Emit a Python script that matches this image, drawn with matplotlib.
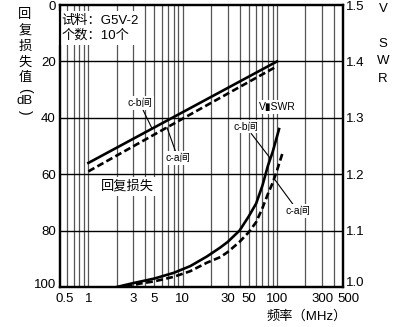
import matplotlib
matplotlib.use('Agg')
import matplotlib.pyplot as plt
from matplotlib.ticker import FixedLocator, NullFormatter
from matplotlib.transforms import ScaledTranslation

plt.rcParams['font.family'] = ['Liberation Sans', 'Noto Sans CJK SC', 'DejaVu Sans']

# return loss (dB) - straight lines on log frequency
rl_freq = [1, 10, 100]
rl_cb = [56, 38, 20]
rl_ca = [59, 40.3, 21.7]

# VSWR curves
vswr_cb_freq = [2, 3, 5, 8, 12, 18, 25, 30, 40, 50, 60, 70, 80, 90, 105]
vswr_cb = [1.0, 1.007, 1.015, 1.025, 1.037, 1.054, 1.07, 1.08, 1.10, 1.125, 1.148, 1.18, 1.215, 1.24, 1.28]
vswr_ca_freq = [2.5, 3.5, 5, 8, 12, 18, 25, 30, 40, 50, 60, 70, 80, 90, 100, 115]
vswr_ca = [1.0, 1.006, 1.010, 1.018, 1.028, 1.043, 1.053, 1.062, 1.08, 1.097, 1.115, 1.14, 1.165, 1.185, 1.207, 1.239]

x_ticks = [0.5, 1, 3, 5, 10, 30, 50, 100, 300, 500]
x_labels = ['0.5', '1', '3', '5', '10', '30', '50', '100', '300', '500']
x_grid = [0.6, 0.7, 0.8, 0.9, 1, 2, 3, 4, 5, 6, 7, 8, 9,
          10, 20, 30, 40, 50, 60, 70, 80, 90, 100, 200, 300, 400]
rl_ticks = [0, 20, 40, 60, 80, 100]
vswr_ticks = [1.0, 1.1, 1.2, 1.3, 1.4, 1.5]

W, H = 402, 327
fig = plt.figure(figsize=(W / 100, H / 100), dpi=100)
ax = fig.add_axes([60 / W, 1 - 287 / H, 283 / W, 282 / H])


def nudge(lbl, dx, dy):
    lbl.set_transform(lbl.get_transform() + ScaledTranslation(dx / 100, dy / 100, fig.dpi_scale_trans))


ax.set_xscale('log')
ax.set_xlim(0.5, 500)
ax.set_ylim(100, 0)
ax.xaxis.set_major_locator(FixedLocator(x_ticks))
ax.xaxis.set_minor_locator(FixedLocator(x_grid))
ax.xaxis.set_minor_formatter(NullFormatter())
ax.set_xticklabels(x_labels)
ax.set_yticks(rl_ticks)
ax.tick_params(which='both', length=0, labelsize=9.5, pad=3)
ax.tick_params(axis='x', pad=4)
# nudge end labels like the original
xl = ax.get_xticklabels()
nudge(xl[0], 5, 0)
nudge(xl[-1], 5, 0)
yl = ax.get_yticklabels()
nudge(yl[-1], 0, 4)
for xg in x_grid:
    ax.axvline(xg, color='#555555', lw=0.9, zorder=1)
for yg in rl_ticks[1:-1]:
    ax.axhline(yg, color='black', lw=1.0, zorder=1)
for s in ax.spines.values():
    s.set_linewidth(1.6)

ax.plot(rl_freq, rl_cb, color='black', lw=1.9, zorder=3)
ax.plot(rl_freq, rl_ca, color='black', lw=1.9, ls=(0, (2.6, 1.3)), zorder=3)

ax2 = ax.twinx()
ax2.set_ylim(1.0, 1.5)
ax2.set_yticks(vswr_ticks)
ax2.set_yticklabels(['%.1f' % v for v in vswr_ticks])
ax2.tick_params(length=0, labelsize=9.5, pad=2)
nudge(ax2.get_yticklabels()[0], 0, 5)
for s in ax2.spines.values():
    s.set_linewidth(1.6)
ax2.plot(vswr_cb_freq, vswr_cb, color='black', lw=1.9, zorder=3)
ax2.plot(vswr_ca_freq, vswr_ca, color='black', lw=1.9, ls=(0, (2.6, 1.3)), zorder=3)

wb = dict(facecolor='white', edgecolor='none', pad=1.2)
ax.text(0.52, 3.5, '试料：G5V-2\n个数：10个', fontsize=9.5, va='top', ha='left',
        linespacing=1.25, bbox=dict(facecolor='white', edgecolor='none', pad=2.5), zorder=4)
ax.text(2.57, 64.3, '回复损失', fontsize=9.5, ha='center', va='center',
        bbox=dict(facecolor='white', edgecolor='none', pad=2.5), zorder=4)

arr = dict(arrowstyle='-', lw=0.8, color='black', shrinkA=0, shrinkB=0)
ax.annotate('c-b间', xy=(4.73, 43.8), xytext=(3.5, 34.8), fontsize=7.5,
            ha='center', va='center', arrowprops=arr, bbox=wb, zorder=4)
ax.annotate('c-a间', xy=(6.8, 43.4), xytext=(8.9, 54.3), fontsize=7.5,
            ha='center', va='center', arrowprops=arr, bbox=wb, zorder=4)
ax2.annotate('c-b间', xy=(84, 1.229), xytext=(46.9, 1.284), fontsize=7.5,
             ha='center', va='center', arrowprops=arr, bbox=wb, zorder=4)
ax2.annotate('c-a间', xy=(95, 1.19), xytext=(166, 1.135), fontsize=7.5,
             ha='center', va='center', arrowprops=arr, bbox=wb, zorder=4)
ax2.text(100, 1.319, 'V▮SWR', fontsize=7.5, ha='center', va='center',
         family=['Liberation Sans', 'DejaVu Sans'], bbox=wb, zorder=4)

# axis titles, stacked characters
for ch, y in zip(['回', '复', '损', '失', '值'], [15, 31, 47, 63, 78]):
    fig.text(25 / W, 1 - y / H, ch, fontsize=9.5, ha='center', va='center')
fig.text(25 / W, 1 - 90 / H, '(', fontsize=10, rotation=-90, ha='center', va='center')
fig.text(25 / W, 1 - 101 / H, 'dB', fontsize=9.5, ha='center', va='center')
fig.text(25 / W, 1 - 112 / H, ')', fontsize=10, rotation=-90, ha='center', va='center')
for ch, y in zip(['V', 'S', 'W', 'R'], [9, 44, 61, 79]):
    fig.text(383 / W, 1 - y / H, ch, fontsize=9.5, ha='center', va='center')
fig.text(307 / W, 1 - 316 / H, '频率（MHz）', fontsize=9.5, ha='center', va='center')

fig.savefig('out.png', dpi=100)
